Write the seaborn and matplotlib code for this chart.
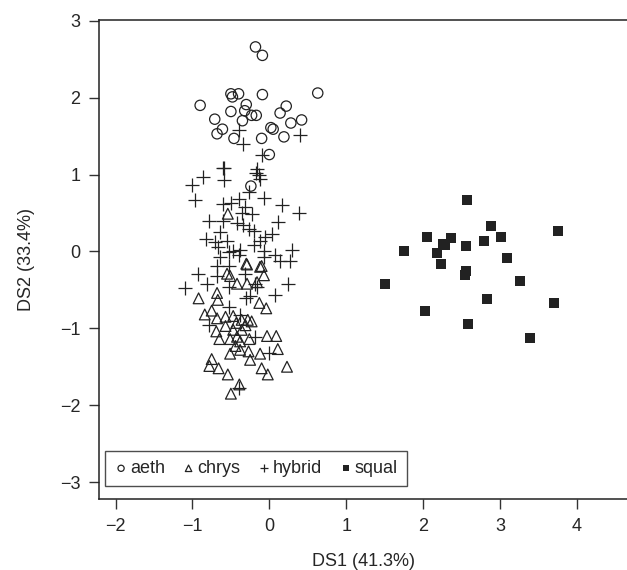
import matplotlib
matplotlib.use("Agg")
import matplotlib.pyplot as plt
import seaborn as sns
import pandas as pd

# --- Data ---
aeth_x = [-0.18, -0.09, 0.63, -0.90, -0.50, -0.48, -0.40, -0.09, -0.30, 0.22,
          0.14, -0.50, -0.32, -0.23, -0.17, -0.71, -0.35, 0.42, 0.28, -0.61,
          -0.68, 0.02, 0.05, 0.19, -0.46, -0.10, 0.00, -0.24]
aeth_y = [2.66, 2.55, 2.06, 1.90, 2.05, 2.01, 2.05, 2.04, 1.91, 1.89,
          1.80, 1.82, 1.83, 1.77, 1.77, 1.72, 1.70, 1.71, 1.67, 1.59,
          1.53, 1.61, 1.59, 1.49, 1.47, 1.47, 1.26, 0.85]

chrys_x = [-0.54, -0.30, -0.10, -0.29, -0.12, -0.07, -0.55, -0.51, -0.42, -0.29,
           -0.16, -0.92, -0.68, -0.67, -0.13, -0.04, -0.84, -0.75, -0.68, -0.57,
           -0.47, -0.43, -0.36, -0.28, -0.23, -0.31, -0.57, -0.69, -0.47, -0.36,
           -0.42, -0.65, -0.51, -0.38, -0.26, -0.03, 0.09, -0.44, -0.38, -0.51,
           -0.27, -0.12, 0.11, -0.25, -0.75, -0.78, -0.66, -0.54, -0.10, -0.02,
           0.23, -0.39, -0.50]
chrys_y = [0.49, -0.16, -0.19, -0.17, -0.20, -0.31, -0.29, -0.32, -0.42, -0.42,
           -0.40, -0.61, -0.54, -0.63, -0.67, -0.74, -0.82, -0.77, -0.87, -0.85,
           -0.84, -0.93, -0.89, -0.89, -0.91, -0.96, -0.97, -1.04, -1.02, -1.02,
           -1.11, -1.14, -1.14, -1.17, -1.14, -1.10, -1.10, -1.23, -1.28, -1.33,
           -1.30, -1.33, -1.27, -1.41, -1.40, -1.49, -1.52, -1.60, -1.52, -1.60,
           -1.50, -1.73, -1.85]

hybrid_x = [-0.39, -0.34, 0.40, -0.10, -0.60, -0.16, -0.59, -0.59, -0.86, -1.00,
            -0.97, -0.17, -0.14, -0.12, -0.26, -0.07, -0.40, -0.60, -0.50, 0.17,
            0.38, -0.32, -0.36, -0.23, -0.60, -0.79, 0.11, -0.42, -0.34, -0.26,
            -0.20, -0.64, -0.83, -0.55, -0.71, -0.06, 0.03, -0.12, -0.20, -0.67,
            -0.47, -0.38, -0.07, -0.53, -0.40, -0.64, 0.30, 0.08, 0.14, 0.27,
            -0.07, -0.68, -0.53, -0.93, -1.10, -0.81, -0.68, -0.52, -0.31, -0.18,
            -0.16, 0.24, 0.08, -0.30, -0.25, -0.52, -0.38, -0.78, -0.18, -0.01,
            -0.39]
hybrid_y = [1.58, 1.40, 1.51, 1.25, 1.09, 1.07, 1.08, 0.93, 0.97, 0.87,
            0.67, 1.02, 0.99, 0.94, 0.77, 0.70, 0.68, 0.62, 0.63, 0.61,
            0.50, 0.58, 0.50, 0.49, 0.39, 0.39, 0.38, 0.37, 0.34, 0.29,
            0.27, 0.25, 0.16, 0.13, 0.12, 0.19, 0.23, 0.14, 0.09, 0.06,
            0.00, 0.02, 0.01, -0.01, -0.05, -0.07, 0.02, -0.04, -0.12, -0.13,
            -0.07, -0.19, -0.19, -0.29, -0.48, -0.42, -0.32, -0.46, -0.30, -0.42,
            -0.46, -0.42, -0.57, -0.61, -0.58, -0.72, -0.83, -0.96, -1.11, -1.32,
            -1.78]

squal_x = [2.57, 2.89, 3.75, 2.05, 2.36, 3.02, 2.79, 2.26, 2.28, 2.56,
           1.75, 2.18, 3.09, 2.23, 2.56, 2.54, 3.26, 1.51, 2.83, 3.70,
           2.03, 2.58, 3.39]
squal_y = [0.67, 0.33, 0.27, 0.19, 0.17, 0.19, 0.13, 0.10, 0.08, 0.07,
           0.01, -0.02, -0.09, -0.17, -0.26, -0.31, -0.38, -0.43, -0.62, -0.67,
           -0.77, -0.95, -1.13]

groups = ["aeth", "chrys", "hybrid", "squal"]

df = pd.concat([
    pd.DataFrame({"DS1": aeth_x, "DS2": aeth_y, "group": "aeth"}),
    pd.DataFrame({"DS1": chrys_x, "DS2": chrys_y, "group": "chrys"}),
    pd.DataFrame({"DS1": hybrid_x, "DS2": hybrid_y, "group": "hybrid"}),
    pd.DataFrame({"DS1": squal_x, "DS2": squal_y, "group": "squal"}),
], ignore_index=True)

# marker style per group (R pch-like)
STYLES = {
    "aeth":   dict(marker="o", s=55, facecolor="none", edgecolor="#222222", linewidth=0.9),
    "chrys":  dict(marker="^", s=60, facecolor="none", edgecolor="#222222", linewidth=0.9),
    "hybrid": dict(marker="+", s=90, color="#222222", linewidth=0.9),
    "squal":  dict(marker="s", s=44, color="#222222", edgecolor="#222222", linewidth=0),
}

FS = 13

sns.set_style("white")
plt.rcParams["font.family"] = ["Liberation Sans", "DejaVu Sans"]

fig = plt.figure(figsize=(6.27, 5.70), dpi=100)
ax = fig.add_axes([99 / 627, 71 / 570, 1 - 99 / 627 + 0.002, 479 / 570])

for g in groups:
    sub = df[df["group"] == g]
    sns.scatterplot(data=sub, x="DS1", y="DS2", ax=ax, label=g, **STYLES[g])

ax.set_xlim(-2.216, 4.67)
ax.set_ylim(-3.22, 3.01)
ax.set_xticks([-2, -1, 0, 1, 2, 3, 4])
ax.set_yticks([-3, -2, -1, 0, 1, 2, 3])
ax.set_xticklabels(["\u22122", "\u22121", "0", "1", "2", "3", "4"])
ax.set_yticklabels(["\u22123", "\u22122", "\u22121", "0", "1", "2", "3"])
ax.tick_params(direction="out", length=7.5, width=1, color="#333333",
               labelsize=FS, pad=6, left=True, bottom=True)
for side in ["left", "bottom", "top"]:
    ax.spines[side].set_color("#222222")
    ax.spines[side].set_linewidth(1.1)
ax.spines["right"].set_visible(False)

ax.set_xlabel("DS1 (41.3%)", fontsize=FS, labelpad=13)
ax.set_ylabel("DS2 (33.4%)", fontsize=FS, labelpad=18)

leg = ax.legend(loc="lower left", bbox_to_anchor=(0.011, 0.027), borderaxespad=0,
                ncol=4, fontsize=FS, frameon=True, fancybox=False,
                markerscale=0.6, handletextpad=0.1, columnspacing=0.9,
                handlelength=0.8, borderpad=0.5)
leg.get_frame().set_edgecolor("#222222")
leg.get_frame().set_linewidth(1.0)

fig.savefig("out.png", dpi=100)
